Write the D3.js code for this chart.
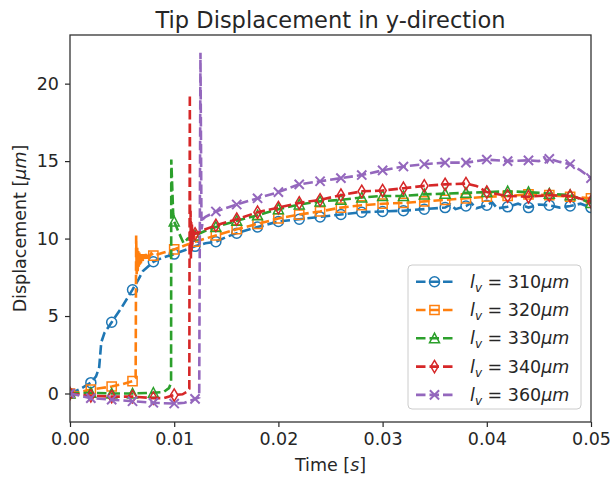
<!DOCTYPE html>
<html>
<head>
<meta charset="utf-8">
<script src="https://cdn.jsdelivr.net/npm/d3@7"></script>
<style>
  body { margin: 0; background: #fff; }
  text { font-family: "DejaVu Sans", sans-serif; fill: #262626; }
</style>
</head>
<body>
<div id="chart"></div>
<script>
// series names, colours, marker kinds
const labels = ["310", "320", "330", "340", "360"];
const colors = ["#1f77b4", "#ff7f0e", "#2ca02c", "#d62728", "#9467bd"];
const markerKinds = ["circle", "square", "triangle", "thinDiamond", "x"];
const xTicks = [0, 0.01, 0.02, 0.03, 0.04, 0.05];
const yTicks = [0, 5, 10, 15, 20];

// [time (s), displacement (um)]
const lv310 = [[0, 0], [0.001, 0.3], [0.002, 0.7], [0.0025, 1.1], [0.0028, 1.7], [0.003, 3.3], [0.0033, 3.9],
  [0.004, 4.6], [0.005, 5.6], [0.006, 6.7], [0.0066, 7.4], [0.007, 7.9], [0.008, 8.5], [0.009, 8.8],
  [0.010, 9.0], [0.011, 9.25], [0.012, 9.5], [0.013, 9.7], [0.014, 9.8], [0.015, 10.1], [0.016, 10.35],
  [0.018, 10.75], [0.020, 11.1], [0.022, 11.25], [0.024, 11.4], [0.026, 11.55], [0.028, 11.7],
  [0.030, 11.75], [0.032, 11.8], [0.034, 11.9], [0.036, 12.0], [0.0365, 12.2], [0.037, 11.9],
  [0.038, 12.1], [0.0385, 12.3], [0.039, 11.95], [0.040, 12.15], [0.0405, 12.35], [0.041, 11.95],
  [0.042, 12.05], [0.043, 12.25], [0.044, 12.0], [0.045, 12.2], [0.046, 12.15], [0.047, 12.0],
  [0.048, 12.1], [0.049, 12.25], [0.050, 12.0]];

const lv320 = [[0, 0], [0.001, 0.1], [0.002, 0.25], [0.003, 0.35], [0.004, 0.45], [0.005, 0.6], [0.006, 0.8],
  [0.0063, 1.0], [0.00635, 10.2], [0.0064, 7.7], [0.00645, 9.4], [0.0065, 7.9], [0.00655, 9.2],
  [0.0066, 8.1], [0.00665, 9.1], [0.0067, 8.3], [0.00675, 9.0], [0.0068, 8.4], [0.0069, 9.0],
  [0.007, 8.5], [0.0071, 9.0], [0.0072, 8.6], [0.0073, 9.0], [0.0074, 8.7], [0.0075, 9.0],
  [0.0076, 8.8], [0.0078, 9.05], [0.008, 8.9], [0.009, 9.1], [0.010, 9.3], [0.011, 9.55],
  [0.012, 9.8], [0.013, 10.0], [0.014, 10.2], [0.016, 10.6], [0.018, 10.95], [0.020, 11.3],
  [0.022, 11.55], [0.024, 11.75], [0.026, 12.0], [0.028, 12.15], [0.030, 12.25], [0.032, 12.3],
  [0.034, 12.4], [0.036, 12.5], [0.038, 12.6], [0.040, 12.7], [0.042, 12.75], [0.044, 12.85],
  [0.046, 12.8], [0.048, 12.7], [0.050, 12.6]];

const lv330 = [[0, 0], [0.002, 0.05], [0.004, 0.0], [0.006, 0.0], [0.008, 0.05], [0.009, 0.1],
  [0.0095, 0.35], [0.0097, 0.7], [0.00972, 15.1], [0.0099, 11.6], [0.010, 11.1], [0.0105, 10.3],
  [0.0109, 9.7], [0.0113, 10.0], [0.012, 10.2], [0.013, 10.5], [0.014, 10.75], [0.016, 11.15],
  [0.018, 11.5], [0.020, 11.9], [0.022, 12.2], [0.024, 12.4], [0.026, 12.5], [0.028, 12.65],
  [0.030, 12.75], [0.032, 12.75], [0.034, 12.85], [0.036, 12.9], [0.038, 12.95], [0.040, 13.0],
  [0.042, 13.05], [0.044, 13.0], [0.046, 12.9], [0.048, 12.8], [0.050, 12.3]];

const lv340 = [[0, 0], [0.002, -0.15], [0.004, -0.2], [0.006, -0.2], [0.008, -0.3], [0.009, -0.3],
  [0.010, -0.1], [0.0108, -0.05], [0.0112, 0.1], [0.01145, 0.3], [0.0115, 19.3], [0.01153, 9.3],
  [0.01157, 11.8], [0.0116, 8.6], [0.01163, 11.2], [0.01167, 9.2], [0.0117, 10.9], [0.01175, 9.6],
  [0.0118, 10.6], [0.01185, 10.0], [0.0119, 10.5], [0.012, 10.3], [0.013, 10.6], [0.014, 10.85],
  [0.016, 11.25], [0.018, 11.7], [0.020, 12.0], [0.022, 12.3], [0.024, 12.5], [0.026, 12.8],
  [0.028, 13.05], [0.030, 13.1], [0.032, 13.25], [0.034, 13.4], [0.036, 13.5], [0.038, 13.55],
  [0.039, 13.4], [0.040, 13.0], [0.042, 12.75], [0.044, 12.7], [0.046, 12.8], [0.048, 12.75],
  [0.050, 12.4]];

const lv360 = [[0, 0], [0.002, -0.3], [0.004, -0.4], [0.006, -0.5], [0.008, -0.6], [0.010, -0.65],
  [0.011, -0.6], [0.012, -0.35], [0.0124, -0.25], [0.01252, 22.0], [0.01262, 10.6], [0.0128, 11.3],
  [0.013, 11.4], [0.014, 11.75], [0.016, 12.2], [0.018, 12.6], [0.020, 13.0], [0.022, 13.5],
  [0.024, 13.7], [0.026, 13.9], [0.028, 14.1], [0.030, 14.4], [0.032, 14.65], [0.034, 14.8],
  [0.036, 14.9], [0.038, 14.9], [0.040, 15.1], [0.042, 15.0], [0.044, 15.05], [0.045, 15.0],
  [0.0455, 15.25], [0.0458, 14.95], [0.046, 15.15], [0.047, 14.95], [0.048, 14.8], [0.049, 14.4],
  [0.050, 13.9]];

const seriesData = [lv310, lv320, lv330, lv340, lv360];

function init() {
    const W = 611, H = 477;
    let margin = { top: 35, right: 20, bottom: 55, left: 70 },
        width = 591 - margin.left,
        height = 422 - margin.top;

    let svg = d3.select("#chart")
        .append("svg")
        .attr("width", W)
        .attr("height", H);

    let g = svg.append("g")
        .attr("transform", "translate(" + margin.left + "," + margin.top + ")");

    let x = d3.scaleLinear().domain([0, 0.05]).range([0, width]);
    let y = d3.scaleLinear().domain([-1.84, 23.14]).range([height, 0]);

    svg.append("defs").append("clipPath").attr("id", "clip")
        .append("rect").attr("width", width).attr("height", height);

    // marker shapes (open, like fillstyle none)
    const markerPath = {
        circle: "M5,0A5,5 0 1,1 -5,0A5,5 0 1,1 5,0Z",
        square: "M-4.6,-4.6H4.6V4.6H-4.6Z",
        triangle: "M0,-5.2L5,4.5L-5,4.5Z",
        thinDiamond: "M0,-6.2L3.7,0L0,6.2L-3.7,0Z",
        x: "M-4.6,-4.6L4.6,4.6M4.6,-4.6L-4.6,4.6"
    };

    let line = d3.line()
        .x(function (d) { return x(d[0]); })
        .y(function (d) { return y(d[1]); });

    let plot = g.append("g").attr("clip-path", "url(#clip)");

    seriesData.forEach(function (data, i) {
        plot.append("path")
            .datum(data)
            .attr("d", line)
            .attr("fill", "none")
            .attr("stroke", colors[i])
            .attr("stroke-width", 2.6)
            .attr("stroke-dasharray", "9.5,4");

        // markers every 0.002 s
        let marked = data.filter(function (d) {
            return Math.abs(d[0] * 500 - Math.round(d[0] * 500)) < 1e-6;
        });
        plot.selectAll(".m" + i)
            .data(marked)
            .join("path")
            .attr("class", "m" + i)
            .attr("transform", function (d) { return "translate(" + x(d[0]) + "," + y(d[1]) + ")"; })
            .attr("d", markerPath[markerKinds[i]])
            .attr("fill", "none")
            .attr("stroke", colors[i])
            .attr("stroke-width", markerKinds[i] === "x" ? 2 : 1.5);
    });

    // axes
    let xAxis = g.append("g")
        .attr("transform", "translate(0," + height + ")")
        .call(d3.axisBottom(x).tickValues(xTicks).tickFormat(d3.format(".2f")).tickSize(5).tickPadding(6));
    let yAxis = g.append("g")
        .call(d3.axisLeft(y).tickValues(yTicks).tickSize(5).tickPadding(6));
    [xAxis, yAxis].forEach(function (a) {
        a.select(".domain").remove();
        a.selectAll("line").attr("stroke", "#262626").attr("stroke-width", 1.2);
        a.selectAll("text").attr("font-size", "17.5px").style("fill", "#262626")
            .attr("font-family", "DejaVu Sans");
    });

    // frame
    g.append("rect")
        .attr("width", width)
        .attr("height", height)
        .attr("fill", "none")
        .attr("stroke", "#333")
        .attr("stroke-width", 1.3);

    // title and axis labels
    svg.append("text")
        .attr("x", margin.left + width / 2)
        .attr("y", 28)
        .attr("text-anchor", "middle")
        .attr("font-size", "22.5px")
        .text("Tip Displacement in y-direction");

    let xl = svg.append("text")
        .attr("x", margin.left + width / 2)
        .attr("y", 471)
        .attr("text-anchor", "middle")
        .attr("font-size", "17.5px");
    xl.append("tspan").text("Time [");
    xl.append("tspan").attr("font-style", "italic").text("s");
    xl.append("tspan").text("]");

    let yl = svg.append("text")
        .attr("transform", "translate(26," + (margin.top + height / 2) + ") rotate(-90)")
        .attr("text-anchor", "middle")
        .attr("font-size", "17.5px");
    yl.append("tspan").text("Displacement [");
    yl.append("tspan").attr("font-style", "italic").text("μm");
    yl.append("tspan").text("]");

    // legend
    let lg = svg.append("g");
    lg.append("rect")
        .attr("x", 408).attr("y", 265)
        .attr("width", 173).attr("height", 144)
        .attr("rx", 4)
        .attr("fill", "white").attr("fill-opacity", 0.8)
        .attr("stroke", "#cccccc").attr("stroke-width", 1);

    labels.forEach(function (lab, i) {
        let cy = 281.7 + i * 28.3;
        lg.append("line")
            .attr("x1", 416).attr("x2", 453)
            .attr("y1", cy).attr("y2", cy)
            .attr("stroke", colors[i])
            .attr("stroke-width", 2.6)
            .attr("stroke-dasharray", "9.5,4");
        lg.append("path")
            .attr("transform", "translate(434.5," + cy + ")")
            .attr("d", markerPath[markerKinds[i]])
            .attr("fill", "none")
            .attr("stroke", colors[i])
            .attr("stroke-width", markerKinds[i] === "x" ? 2 : 1.5);
        let t = lg.append("text")
            .attr("x", 470)
            .attr("y", cy + 6)
            .attr("font-size", "17.5px");
        t.append("tspan").attr("font-style", "italic").text("l");
        t.append("tspan").attr("font-style", "italic").attr("font-size", "12px").attr("dy", 4).text("v");
        t.append("tspan").attr("dy", -4).text(" = " + lab);
        t.append("tspan").attr("font-style", "italic").text("μm");
    });
}

window.addEventListener('load', init);
</script>
</body>
</html>
